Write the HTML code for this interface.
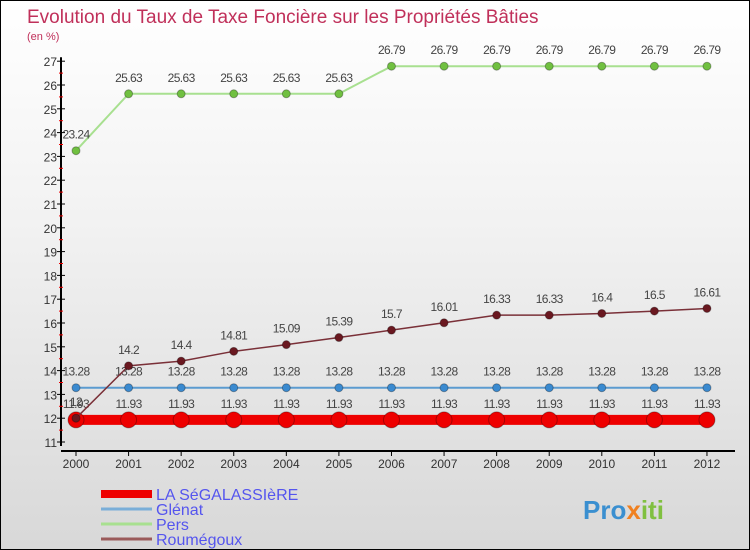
<!DOCTYPE html>
<html><head><meta charset="utf-8"><style>
body{margin:0}
#c{width:750px;height:550px;position:relative;overflow:hidden;box-sizing:border-box;border:1px solid #000;background:linear-gradient(#fff,#f2f2f2 40%,#d8d8d8);font-family:"Liberation Sans",sans-serif}
text{font-family:"Liberation Sans",sans-serif}
</style></head><body>
<div id="c">
<svg id="s" width="750" height="550">
<text x="26" y="22" font-size="19" fill="#c0305a">Evolution du Taux de Taxe Foncière sur les Propriétés Bâties</text>
<text x="26" y="39" font-size="11" fill="#c0305a">(en %)</text>
<g id="axes"></g><g id="series"></g><g id="legend"></g>
<text x="582" y="518" font-size="26" font-weight="bold" fill="#3a8fd0">Pro<tspan fill="#f08020">x</tspan><tspan fill="#80c040">iti</tspan></text>
</svg></div>
<script>
const years=[2000,2001,2002,2003,2004,2005,2006,2007,2008,2009,2010,2011,2012];
const yTicks=[11,12,13,14,15,16,17,18,19,20,21,22,23,24,25,26,27];
const segalassiere=[11.93,11.93,11.93,11.93,11.93,11.93,11.93,11.93,11.93,11.93,11.93,11.93,11.93];
const glenat=[13.28,13.28,13.28,13.28,13.28,13.28,13.28,13.28,13.28,13.28,13.28,13.28,13.28];
const pers=[23.24,25.63,25.63,25.63,25.63,25.63,26.79,26.79,26.79,26.79,26.79,26.79,26.79];
const roumegoux=[12,14.2,14.4,14.81,15.09,15.39,15.7,16.01,16.33,16.33,16.4,16.5,16.61];
const names=["LA SéGALASSIèRE","Glénat","Pers","Roumégoux"];
const NS="http://www.w3.org/2000/svg";
const X=i=>75+i*52.58, Y=v=>441-(v-11)*23.8;
function mk(t,a,p){const e=document.createElementNS(NS,t);for(const k in a)e.setAttribute(k,a[k]);p.appendChild(e);return e;}
const ax=document.getElementById('axes');
let e=mk('line',{x1:60,y1:Y(27)-4,x2:60,y2:445,stroke:'#000','stroke-width':2},ax);

e=mk('line',{x1:60,y1:450,x2:734,y2:450,stroke:'#000','stroke-width':2},ax);

yTicks.forEach(v=>{mk('line',{x1:56,x2:64,y1:Y(v),y2:Y(v),stroke:'#000'},ax);
 if(v<27)mk('line',{x1:58,x2:62,y1:Y(v+0.5),y2:Y(v+0.5),stroke:'#e00'},ax);
 const t=mk('text',{x:56,y:Y(v)+5,'font-size':12,fill:'#333','text-anchor':'end'},ax);t.textContent=v;
 });
years.forEach((y,i)=>{mk('line',{x1:X(i),x2:X(i),y1:450,y2:455,stroke:'#000'},ax);
 const t=mk('text',{x:X(i),y:467,'font-size':12,fill:'#333','text-anchor':'middle'},ax);t.textContent=y;
 });
const sg=document.getElementById('series');
function series(data,color,lw,r,dot,name){
 const g=mk('g',{},sg);
 mk('polyline',{points:data.map((v,i)=>X(i)+','+Y(v)).join(' '),fill:'none',stroke:color,'stroke-width':lw},g);
 data.forEach((v,i)=>{const c=mk('circle',{cx:X(i),cy:Y(v),r:r,fill:dot,stroke:'rgba(0,0,0,0.3)'},g);
  
  const t=mk('text',{x:X(i),y:Y(v)-12,'font-size':12,fill:'#444','text-anchor':'middle','letter-spacing':'-0.6'},g);t.textContent=v;
  });
}
series(segalassiere,'#e00',10,8,'#e00','segalassiere-series');
series(glenat,'#5b9bd0',2,4,'#3a8ad0','glenat-series');
series(pers,'#a8e090',2,4,'#70c040','pers-series');
series(roumegoux,'#7a3038',1.5,4,'#6a1820','roumegoux-series');
const lg=document.getElementById('legend');
const lc=['#e00','#7aaed8','#a8e090','#9a5a5a'],lw=[8,3,3,3];
names.forEach((n,i)=>{const g=mk('g',{},lg);
 mk('line',{x1:100,x2:151,y1:493+i*15,y2:493+i*15,stroke:lc[i],'stroke-width':lw[i]},g);
 const t=mk('text',{x:155,y:499+i*15,'font-size':16,fill:'#5555ee'},g);t.textContent=n;});
</script></body></html>
